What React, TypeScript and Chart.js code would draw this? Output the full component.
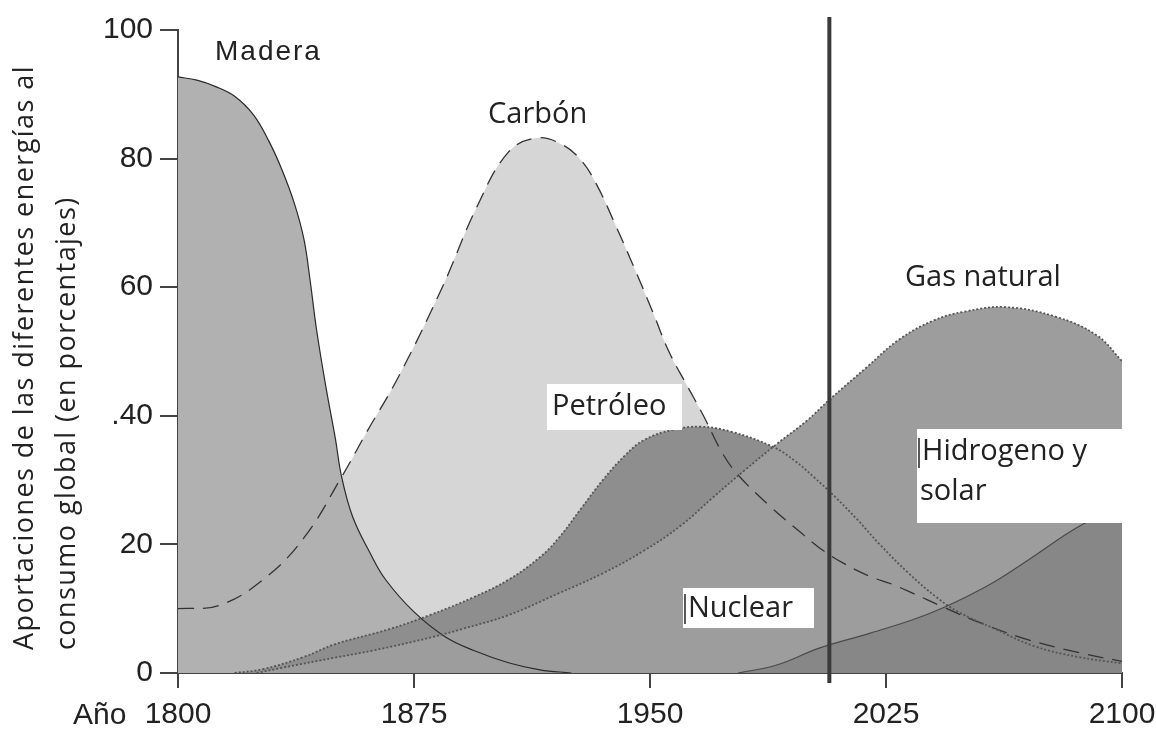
import React, { useEffect, useRef } from "react";
import { Chart, registerables } from "chart.js";

Chart.register(...registerables);

// ---- Data ----
const xTickValues = [1800, 1875, 1950, 2025, 2100];
const yTickValues = [0, 20, 40, 60, 80, 100];
const yTickLabels = ["0", "20", ".40", "60", "80", "100"];

const maderaYears = [1800, 1806, 1812, 1818, 1824, 1829, 1833, 1837, 1840, 1842, 1844, 1847, 1850, 1852, 1855.5, 1861, 1866, 1875, 1885, 1894, 1905, 1915, 1925];
const maderaValues = [92.7, 92.2, 91.2, 89.7, 86.8, 82.6, 78.3, 73, 67.5, 61, 53.5, 44.5, 36.5, 30.5, 24.3, 18.7, 14.5, 9.5, 5.6, 3.5, 1.6, 0.5, 0];

const carbonYears = [1800, 1813, 1827, 1840, 1852, 1860, 1870, 1884, 1895, 1905, 1914, 1922, 1928, 1933, 1939, 1945, 1951, 1956, 1962, 1967, 1973, 1978, 1988, 1998, 2004, 2011, 2020, 2027, 2034, 2043, 2055, 2070, 2086, 2100];
const carbonValues = [10, 10.5, 14.5, 21, 30.5, 37.5, 46, 60, 72.5, 81, 83.2, 82.2, 79.8, 76, 69.7, 63, 56, 50, 44.5, 40, 34.2, 30.8, 26, 21.8, 19.4, 17.2, 15, 13.8, 12.3, 10.3, 7.8, 5.2, 3.2, 1.8];

const petroleoYears = [1818, 1827, 1840, 1850, 1867, 1880, 1894, 1905, 1915, 1921, 1928, 1935, 1942, 1948, 1957, 1966, 1976, 1989, 1996, 2002, 2009, 2016, 2023, 2032, 2041, 2048, 2059, 2072, 2086, 2100];
const petroleoValues = [0, 0.6, 2.5, 4.5, 6.8, 9, 11.8, 14.5, 18, 21, 25.5, 30, 33.8, 36.2, 37.8, 38.3, 37.5, 35.2, 33, 30.5, 27.3, 23.8, 20, 15.6, 11.8, 9.5, 7, 4.2, 2.5, 1.5];

const gasYears = [1825, 1833, 1850, 1862, 1881, 1890, 1905, 1921, 1935, 1948, 1960, 1970, 1980, 1990, 2000, 2007, 2019, 2029, 2040, 2050, 2063, 2079, 2092, 2100];
const gasValues = [0, 0.8, 2.4, 3.5, 5.6, 6.8, 9, 12.4, 15.5, 19, 23, 27.3, 31.5, 35.5, 39.3, 42.5, 47.6, 51.8, 54.8, 56.2, 56.9, 55.4, 52.5, 48.5];

const nuevaYears = [1978, 1990, 2004, 2020, 2039, 2057, 2070, 2086, 2100];
const nuevaValues = [0, 1.2, 3.9, 6.2, 9.3, 13.5, 17.5, 22.7, 26];

const verticalLineYear = 2007;

const toPoints = (xs: number[], ys: number[]) => xs.map((x, i) => ({ x, y: ys[i] }));

const overlayPlugin = {
  id: "overlay",
  afterDatasetsDraw(chart: any) {
    const ctx: CanvasRenderingContext2D = chart.ctx;
    const xs = chart.scales.x;
    ctx.save();

    // vertical "today" line
    const vx = xs.getPixelForValue(verticalLineYear);
    ctx.strokeStyle = "#3a3a3a";
    ctx.lineWidth = 4;
    ctx.beginPath();
    ctx.moveTo(vx, 17);
    ctx.lineTo(vx, 683);
    ctx.stroke();

    // white label boxes
    ctx.fillStyle = "#ffffff";
    ctx.fillRect(547, 384, 135, 46);
    ctx.fillRect(683, 588, 131, 40);
    ctx.fillRect(917, 429, 239, 94);

    ctx.fillStyle = "#222";
    ctx.textBaseline = "middle";
    ctx.textAlign = "left";
    ctx.font = '29px "Open Sans"';
    ctx.fillText("Petróleo", 552, 407);
    ctx.fillText("Nuclear", 688, 609);
    ctx.fillText("Hidrogeno y", 922, 452);
    ctx.fillText("solar", 920, 492);
    ctx.fillText("Carbón", 488, 115);
    ctx.fillText("Gas natural", 905, 278);

    // cursor bars
    ctx.strokeStyle = "#222";
    ctx.lineWidth = 1.5;
    ctx.beginPath();
    ctx.moveTo(685, 594); ctx.lineTo(685, 624);
    ctx.moveTo(919, 438); ctx.lineTo(919, 468);
    ctx.stroke();

    ctx.font = '28px "Liberation Sans"';
    (ctx as any).letterSpacing = "2px";
    ctx.fillText("Madera", 215, 52);
    (ctx as any).letterSpacing = "0px";

    ctx.font = '30px "Liberation Sans"';
    ctx.fillText("Año", 73, 716);

    // y axis title (two lines, rotated)
    const l1 = "Aportaciones de las diferentes energías al";
    const l2 = "consumo global (en porcentajes)";
    ctx.font = '27px "Open Sans"';
    const w = ctx.measureText(l1).width;
    const ls = Math.max(0, (585 - w) / l1.length);
    (ctx as any).letterSpacing = ls + "px";
    ctx.save();
    ctx.translate(25, 650);
    ctx.rotate(-Math.PI / 2);
    ctx.fillText(l1, 0, 0);
    ctx.restore();
    ctx.save();
    ctx.translate(67, 650);
    ctx.rotate(-Math.PI / 2);
    ctx.fillText(l2, 0, 0);
    ctx.restore();
    (ctx as any).letterSpacing = "0px";

    ctx.restore();
  },
};

export default function App() {
  const ref = useRef<HTMLCanvasElement | null>(null);

  useEffect(() => {
    if (!ref.current) return;
    const lineBase = {
      pointRadius: 0,
      tension: 0.4,
      fill: "origin",
    };
    const chart = new Chart(ref.current, {
      type: "line",
      data: {
        datasets: [
          {
            ...lineBase,
            label: "Nuclear / Hidrógeno y solar",
            data: toPoints(nuevaYears, nuevaValues),
            backgroundColor: "#878787",
            borderColor: "#4a4a4a",
            borderWidth: 1.2,
          },
          {
            ...lineBase,
            label: "Gas natural",
            data: toPoints(gasYears, gasValues),
            backgroundColor: "#9d9d9d",
            borderColor: "#555",
            borderWidth: 1.8,
            borderDash: [2, 2],
          },
          {
            ...lineBase,
            label: "Petróleo",
            data: toPoints(petroleoYears, petroleoValues),
            backgroundColor: "#8e8e8e",
            borderColor: "#555",
            borderWidth: 1.8,
            borderDash: [2, 2],
          },
          {
            ...lineBase,
            label: "Madera",
            data: toPoints(maderaYears, maderaValues),
            backgroundColor: "#b1b1b1",
            borderColor: "#2a2a2a",
            borderWidth: 1.2,
          },
          {
            ...lineBase,
            label: "Carbón",
            data: toPoints(carbonYears, carbonValues),
            backgroundColor: "#d6d6d6",
            borderColor: "#333",
            borderWidth: 1.3,
            borderDash: [16, 9],
          },
        ],
      },
      options: {
        animation: false,
        responsive: false,
        layout: { padding: { left: 0, right: 34, top: 30, bottom: 0 } },
        plugins: {
          legend: { display: false },
          tooltip: { enabled: false },
          filler: { drawTime: "beforeDatasetsDraw" },
        } as any,
        scales: {
          x: {
            type: "linear",
            min: 1800,
            max: 2100,
            afterBuildTicks: (s: any) => {
              s.ticks = xTickValues.map((v) => ({ value: v }));
            },
            afterFit: (s: any) => {
              s.height = 71;
              s.paddingLeft = 0;
              s.paddingRight = 0;
            },
            grid: { drawOnChartArea: false, drawTicks: true, tickLength: 15, color: "#444", lineWidth: 2 },
            border: { display: true, color: "#444", width: 2 },
            ticks: {
              font: { family: '"Liberation Sans"', size: 30 },
              color: "#222",
              padding: 9,
              maxRotation: 0,
              autoSkip: false,
              callback: (v: any) => String(v),
            },
          },
          y: {
            type: "linear",
            min: 0,
            max: 100,
            afterBuildTicks: (s: any) => {
              s.ticks = yTickValues.map((v) => ({ value: v }));
            },
            afterFit: (s: any) => {
              s.width = 178;
              s.paddingTop = 0;
              s.paddingBottom = 0;
            },
            grid: { drawOnChartArea: false, drawTicks: true, tickLength: 18, color: "#444", lineWidth: 2 },
            border: { display: true, color: "#444", width: 2 },
            ticks: {
              font: { family: '"Liberation Sans"', size: 30 },
              color: "#222",
              padding: 7,
              autoSkip: false,
              callback: (v: any) => {
                const i = yTickValues.indexOf(Number(v));
                return i >= 0 ? yTickLabels[i] : "";
              },
            },
          },
        },
      },
      plugins: [overlayPlugin],
    } as any);
    return () => chart.destroy();
  }, []);

  return (
    <div style={{ position: "absolute", left: 0, top: 0, width: 1156, height: 744, background: "#fff" }}>
      <canvas ref={ref} width={1156} height={744} style={{ display: "block" }} />
    </div>
  );
}
